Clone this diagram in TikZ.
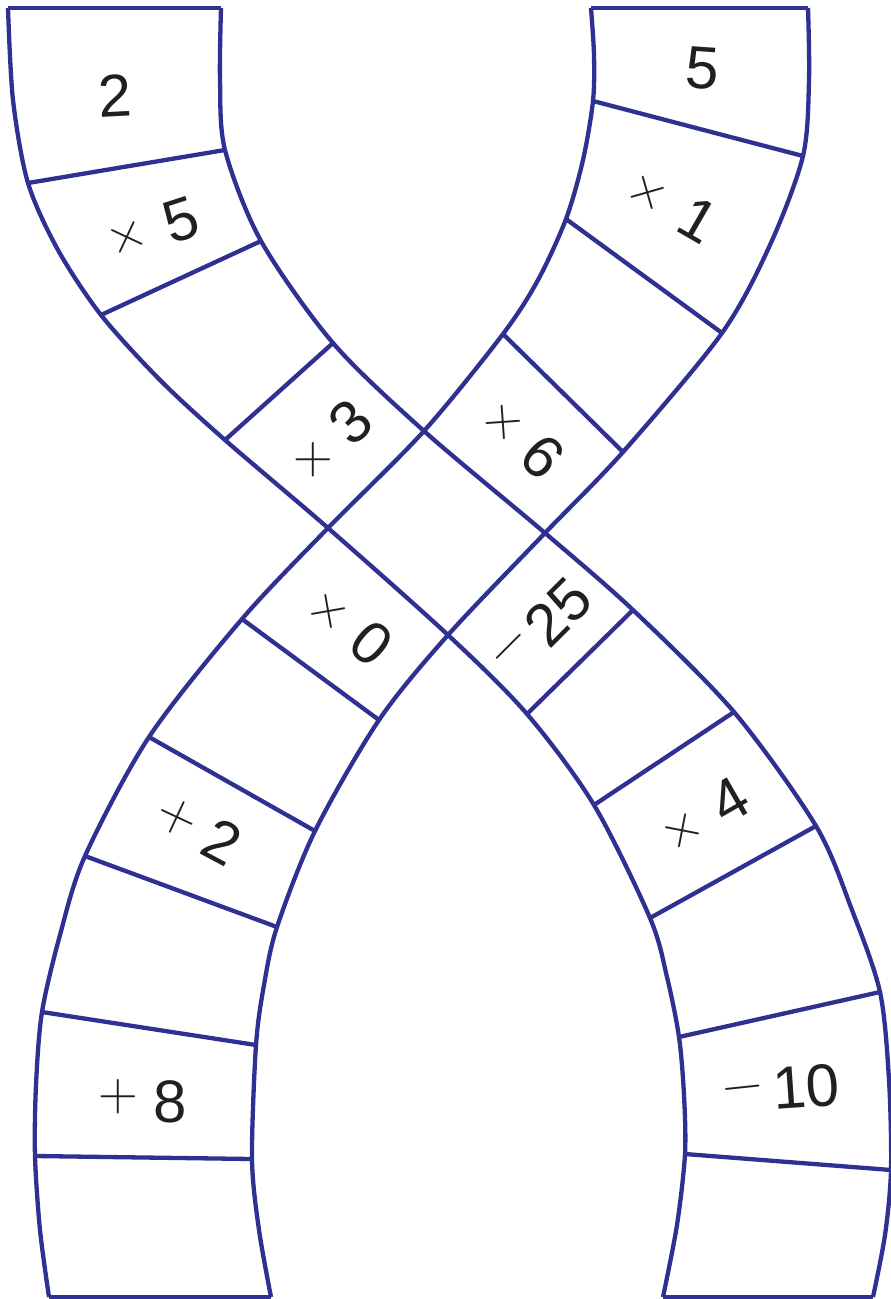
\documentclass[tikz,border=0pt]{standalone}
\usepackage{fontspec}
\newfontfamily\digitfont{Liberation Sans}
\definecolor{bandblue}{RGB}{46,49,146}
\definecolor{ink}{RGB}{35,31,32}
\begin{document}
\begin{tikzpicture}[x=1pt,y=-1pt,
  edge/.style={draw=bandblue, line width=4.3pt, line join=round},
  num/.style={font=\digitfont\fontsize{60}{60}\selectfont, inner sep=0pt, text=ink},
  sgn/.style={font=\fontsize{55}{55}\selectfont, inner sep=0pt, text=ink}]
\useasboundingbox (0,0) rectangle (891,1299);
% band A (top left -> bottom right), left edge
\coordinate (al1) at (8,8);
\coordinate (al1b) at (13,100);
\coordinate (al2) at (28,183);
\coordinate (al2b) at (58,250);
\coordinate (al3) at (101,315);
\coordinate (al3b) at (160,380);
\coordinate (al4) at (225,440);
\coordinate (xl) at (328,528);
\coordinate (xb) at (448,635);
\coordinate (al5) at (527,714);
\coordinate (al6) at (594,805);
\coordinate (al7) at (650,918);
\coordinate (al7b) at (667,977);
\coordinate (al8) at (679,1037);
\coordinate (al8b) at (684,1095);
\coordinate (al9) at (685,1154);
\coordinate (al9b) at (677,1225);
\coordinate (al10) at (663,1297);
% band A right edge
\coordinate (ar1) at (221,8);
\coordinate (ar1b) at (220,80);
\coordinate (ar2) at (225,150);
\coordinate (ar3) at (261,241);
\coordinate (ar4) at (333,343);
\coordinate (xt) at (424,431);
\coordinate (xr) at (545,533);
\coordinate (ar5) at (633,610);
\coordinate (ar6) at (734,712);
\coordinate (ar7) at (816,826);
\coordinate (ar7b) at (852,910);
\coordinate (ar8) at (880,992);
\coordinate (ar8b) at (889,1080);
\coordinate (ar9) at (891,1170);
\coordinate (ar9b) at (885,1235);
\coordinate (ar10) at (873,1297);
% band B (top right -> bottom left), left edge
\coordinate (bl1) at (591,8);
\coordinate (bl1b) at (594,55);
\coordinate (bl2) at (593,101);
\coordinate (bl2b) at (583,160);
\coordinate (bl3) at (566,219);
\coordinate (bl3b) at (538,280);
\coordinate (bl4) at (503,334);
\coordinate (bl5) at (242,619);
\coordinate (bl6) at (149,737);
\coordinate (bl7) at (85,856);
\coordinate (bl7b) at (60,935);
\coordinate (bl8) at (42,1012);
\coordinate (bl8b) at (36,1085);
\coordinate (bl9) at (35,1156);
\coordinate (bl9b) at (40,1230);
\coordinate (bl10) at (49,1297);
% band B right edge
\coordinate (br1) at (808,8);
\coordinate (br1b) at (809,80);
\coordinate (br2) at (803,156);
\coordinate (br2b) at (770,245);
\coordinate (br3) at (722,333);
\coordinate (br4) at (623,452);
\coordinate (br5) at (379,720);
\coordinate (br6) at (315,831);
\coordinate (br7) at (277,927);
\coordinate (br7b) at (264,985);
\coordinate (br8) at (256,1045);
\coordinate (br9) at (252,1159);
\coordinate (br9b) at (259,1230);
\coordinate (br10) at (271,1297);

% edges
\draw[edge] plot[smooth] coordinates {(al1) (al1b) (al2) (al2b) (al3) (al3b) (al4) (xl) (xb) (al5) (al6) (al7) (al7b) (al8) (al8b) (al9) (al9b) (al10)};
\draw[edge] plot[smooth] coordinates {(ar1) (ar1b) (ar2) (ar3) (ar4) (xt) (xr) (ar5) (ar6) (ar7) (ar7b) (ar8) (ar8b) (ar9) (ar9b) (ar10)};
\draw[edge] plot[smooth] coordinates {(bl1) (bl1b) (bl2) (bl2b) (bl3) (bl3b) (bl4) (xt) (xl) (bl5) (bl6) (bl7) (bl7b) (bl8) (bl8b) (bl9) (bl9b) (bl10)};
\draw[edge] plot[smooth] coordinates {(br1) (br1b) (br2) (br2b) (br3) (br4) (xr) (xb) (br5) (br6) (br7) (br7b) (br8) (br9) (br9b) (br10)};
% ends
\draw[edge] (al1) -- (ar1);
\draw[edge] (al10) -- (ar10);
\draw[edge] (bl1) -- (br1);
\draw[edge] (bl10) -- (br10);
% dividers band A
\draw[edge] (al2) -- (ar2);
\draw[edge] (al3) -- (ar3);
\draw[edge] (al4) -- (ar4);
\draw[edge] (al5) -- (ar5);
\draw[edge] (al6) -- (ar6);
\draw[edge] (al7) -- (ar7);
\draw[edge] (al8) -- (ar8);
\draw[edge] (al9) -- (ar9);
% dividers band B
\draw[edge] (bl2) -- (br2);
\draw[edge] (bl3) -- (br3);
\draw[edge] (bl4) -- (br4);
\draw[edge] (bl5) -- (br5);
\draw[edge] (bl6) -- (br6);
\draw[edge] (bl7) -- (br7);
\draw[edge] (bl8) -- (br8);
\draw[edge] (bl9) -- (br9);

% labels band A
\node[num, rotate=3] (na1) at (115,96) {2};
\node[sgn, rotate=-25] (sa2) at (127,237) {+};
\node[num, rotate=18] (na2) at (181,220) {5};
\node[sgn] (sa3) at (313,460) {+};
\node[num, rotate=43] (na3) at (351,422) {3};
\node[sgn, rotate=45] (sa4) at (513,651) {\char"2212};
\node[num, rotate=45] (na4) at (558,612) {25};
\node[sgn, rotate=-11] (sa5) at (683,831) {+};
\node[num, rotate=30] (na5) at (730,800) {4};
\node[sgn, rotate=6] (sa6) at (743,1094) {\char"2212};
\node[num, rotate=4] (na6) at (806,1087) {10};
% labels band B
\node[num, rotate=-4] (nb1) at (703,68) {5};
\node[sgn, rotate=16] (sb2) at (648,193) {+};
\node[num, rotate=-30] (nb2) at (698,220) {1};
\node[sgn, rotate=4] (sb3) at (503,422) {+};
\node[num, rotate=-43] (nb3) at (543,457) {6};
\node[sgn, rotate=10] (sb4) at (329,612) {+};
\node[num, rotate=-40] (nb4) at (372,643) {0};
\node[sgn, rotate=-25] (sb5) at (177,817) {+};
\node[num, rotate=-28] (nb5) at (222,842) {2};
\node[sgn] (sb6) at (118,1097) {+};
\node[num] (nb6) at (170,1102) {8};
\end{tikzpicture}
\end{document}
